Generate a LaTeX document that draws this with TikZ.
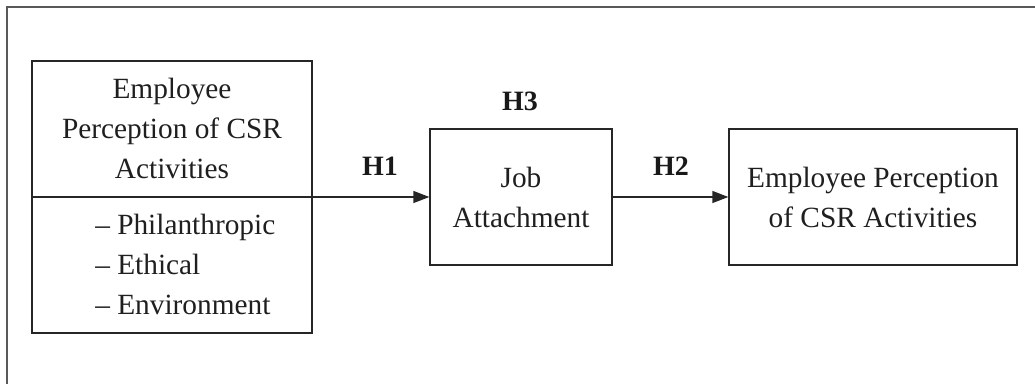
\documentclass[tikz,border=0pt]{standalone}
\usepackage{fontspec}
\setmainfont{Liberation Serif}
\usetikzlibrary{arrows.meta}
\begin{document}
\begin{tikzpicture}[x=0.75pt,y=-0.75pt,
  frame/.style={draw=black!65, line width=1pt},
  box/.style={draw=black!85, line width=1pt, inner sep=0pt},
  txt/.style={font=\fontsize{22}{30}\selectfont, text=black!88, inner sep=0pt, anchor=base},
  lbl/.style={font=\fontsize{21}{24}\selectfont\bfseries, text=black!90, inner sep=0pt, anchor=base},
  arr/.style={-{Triangle[length=12pt,width=9pt]}, line width=1pt, draw=black!85}]
\useasboundingbox (0,0) rectangle (1035,384);
\coordinate (fb) at (7,384);
\coordinate (fc) at (7,7);
\coordinate (fr) at (1035,7);
\draw[frame] (fb) -- (fc) -- (fr);
% boxes
\node[box, minimum width=210pt, minimum height=204pt] (left) at (172,197) {};
\node[box, minimum width=136.5pt, minimum height=102pt] (mid) at (521,197) {};
\node[box, minimum width=216pt, minimum height=102pt] (right) at (873,197) {};
\draw[box] (left.west) -- (left.east);
% left box texts
\node[txt] (l1) at (172,99) {Employee};
\node[txt] (l2) at (172,139) {Perception of CSR};
\node[txt] (l3) at (172,179) {Activities};
\node[txt, anchor=base west] (b1) at (95,235) {– Philanthropic};
\node[txt, anchor=base west] (b2) at (95,275) {– Ethical};
\node[txt, anchor=base west] (b3) at (95,315) {– Environment};
% middle
\node[txt] (m1) at (521,188) {Job};
\node[txt] (m2) at (521,228) {Attachment};
% right
\node[txt] (r1) at (873,188) {Employee Perception};
\node[txt] (r2) at (873,228) {of CSR Activities};
% arrows
\draw[arr] (left.east) -- (mid.west);
\draw[arr] (mid.east) -- (right.west);
% labels
\node[lbl] (h1) at (380,176) {H1};
\node[lbl] (h2) at (671,176) {H2};
\node[lbl] (h3) at (520,111) {H3};
\end{tikzpicture}
\end{document}
